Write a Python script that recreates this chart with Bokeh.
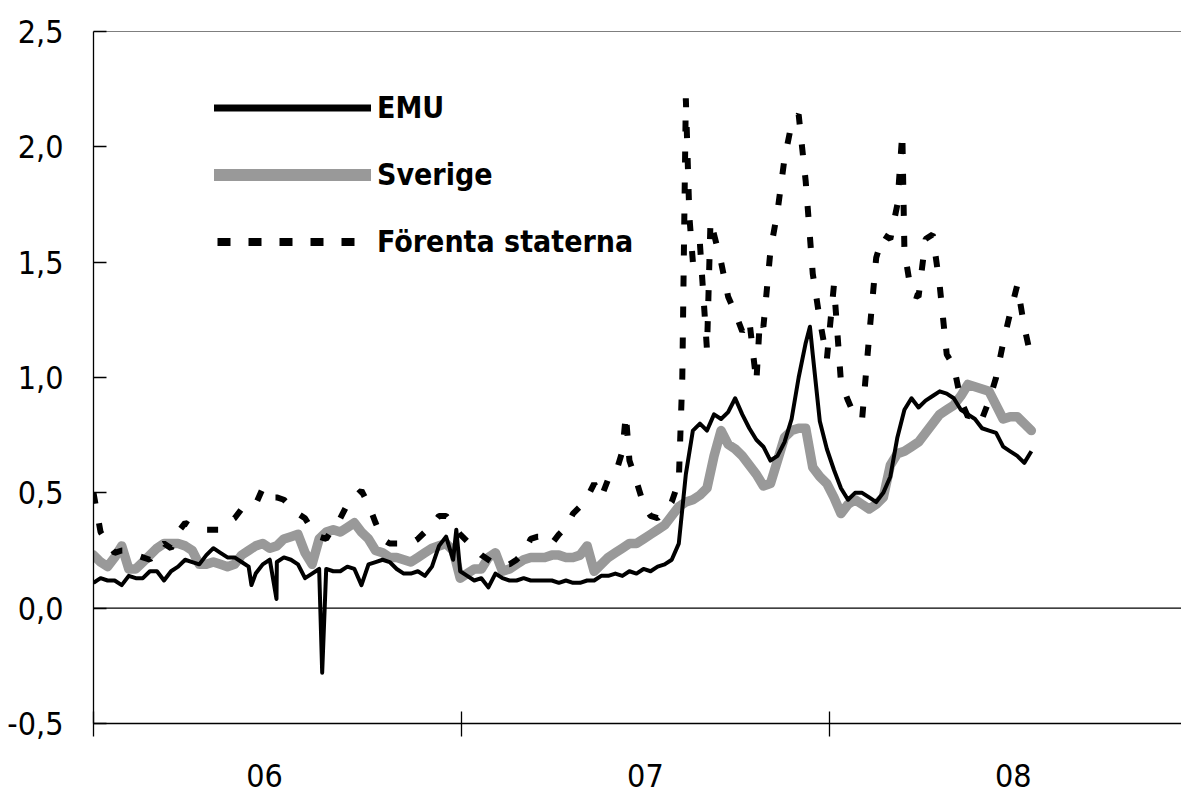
from bokeh.plotting import figure
from bokeh.models import (FixedTicker, Span, Legend, LegendItem, Range1d)
from bokeh.embed import file_html
from bokeh.resources import INLINE

# ---------------- data (weekly readings, week 0 = start of 2006) ----------------
sverige = [0.23, 0.20, 0.18, 0.22, 0.27, 0.17, 0.17, 0.20, 0.23, 0.26,
           0.28, 0.28, 0.28, 0.27, 0.25, 0.19, 0.19, 0.20, 0.19, 0.18,
           0.19, 0.23, 0.25, 0.27, 0.28, 0.26, 0.27, 0.30, 0.31, 0.32,
           0.24, 0.19, 0.30, 0.33, 0.34, 0.33, 0.35, 0.37, 0.33, 0.30,
           0.25, 0.24, 0.22, 0.22, 0.21, 0.20, 0.22, 0.24, 0.26, 0.27,
           0.28, 0.25, 0.13, 0.15, 0.17, 0.17, 0.22, 0.24, 0.16, 0.17,
           0.19, 0.21, 0.22, 0.22, 0.22, 0.23, 0.23, 0.22, 0.22, 0.23,
           0.27, 0.16, 0.19, 0.22, 0.24, 0.26, 0.28, 0.28, 0.30, 0.32,
           0.34, 0.36, 0.40, 0.44, 0.46, 0.47, 0.49, 0.52, 0.66, 0.77,
           0.71, 0.69, 0.66, 0.62, 0.58, 0.53, 0.54, 0.64, 0.74, 0.77,
           0.78, 0.78, 0.61, 0.57, 0.54, 0.48, 0.41, 0.45, 0.47, 0.45,
           0.43, 0.45, 0.48, 0.62, 0.67, 0.68, 0.70, 0.72, 0.76, 0.80,
           0.84, 0.86, 0.88, 0.92, 0.97, 0.96, 0.95, 0.94, 0.88, 0.82,
           0.83, 0.83, 0.80, 0.77]

emu = [0.11, 0.13, 0.12, 0.12, 0.10, 0.14, 0.13, 0.13, 0.16, 0.16,
       0.12, 0.16, 0.18, 0.21, 0.20, 0.19, 0.23, 0.26, 0.24, 0.22,
       0.22, 0.20, 0.18, 0.15, 0.19, 0.21, 0.20, 0.22, 0.21, 0.19,
       0.13, 0.15, 0.17, 0.17, 0.16, 0.16, 0.18, 0.17, 0.10, 0.19,
       0.20, 0.21, 0.20, 0.17, 0.15, 0.15, 0.16, 0.14, 0.18, 0.27,
       0.31, 0.21, 0.16, 0.14, 0.12, 0.13, 0.09, 0.15, 0.13, 0.12,
       0.12, 0.13, 0.12, 0.12, 0.12, 0.12, 0.11, 0.12, 0.11, 0.11,
       0.12, 0.12, 0.14, 0.14, 0.15, 0.14, 0.16, 0.15, 0.17, 0.16,
       0.18, 0.19, 0.21, 0.28, 0.58, 0.77, 0.80, 0.77, 0.84, 0.82,
       0.85, 0.91, 0.84, 0.78, 0.73, 0.70, 0.64, 0.66, 0.72, 0.82,
       1.00, 1.15, 1.10, 0.81, 0.69, 0.60, 0.52, 0.47, 0.50, 0.50,
       0.48, 0.46, 0.50, 0.57, 0.74, 0.86, 0.91, 0.87, 0.90, 0.92,
       0.94, 0.93, 0.91, 0.86, 0.84, 0.82, 0.78, 0.77, 0.76, 0.70,
       0.68, 0.66, 0.63, 0.68]
emu_spike_weeks = [22.4, 25.95, 32.43, 51.45, 101.6]
emu_spike_values = [0.10, 0.04, -0.28, 0.34, 1.22]

usa = [0.50, 0.33, 0.28, 0.24, 0.25, 0.25, 0.23, 0.22, 0.21, 0.26,
       0.28, 0.26, 0.33, 0.37, 0.35, 0.35, 0.34, 0.34, 0.34, 0.37,
       0.39, 0.43, 0.44, 0.45, 0.52, 0.48, 0.48, 0.47, 0.44, 0.41,
       0.39, 0.34, 0.31, 0.30, 0.35, 0.39, 0.45, 0.48, 0.51, 0.45,
       0.37, 0.30, 0.28, 0.28, 0.28, 0.28, 0.30, 0.33, 0.36, 0.40,
       0.40, 0.36, 0.32, 0.29, 0.26, 0.23, 0.21, 0.19, 0.19, 0.19,
       0.21, 0.24, 0.30, 0.31, 0.31, 0.28, 0.32, 0.35, 0.41, 0.44,
       0.48, 0.54, 0.48, 0.56, 0.58, 0.68, 0.64, 0.55, 0.45, 0.40,
       0.39, 0.42, 0.46, 0.55, 2.21, 1.50, 1.58, 1.12, 1.62, 1.50,
       1.35, 1.28, 1.20, 1.25, 0.98, 1.22, 1.55, 1.72, 1.95, 2.10,
       2.14, 1.85, 1.45, 1.25, 1.08, 1.40, 0.98, 0.90, 0.83, 0.82,
       1.18, 1.52, 1.62, 1.60, 1.75, 1.55, 1.36, 1.35, 1.60, 1.62,
       1.40, 1.10, 1.05, 0.90, 0.83, 0.85, 0.82, 0.90, 1.00, 1.15,
       1.28, 1.40, 1.22, 1.08]
usa_spike_weeks = [75.5, 83.5, 84.5, 86.5, 87.5, 94.5, 114.7]
usa_spike_values = [0.84, 1.00, 1.70, 1.35, 1.68, 1.25, 2.06]

series_names = ["EMU", "Sverige", "Förenta staterna"]
year_ticks = [2006, 2007, 2008]
year_label_pos = [2006.465, 2007.5, 2008.5]
year_labels = ["06", "07", "08"]
y_ticks = [-0.5, 0, 0.5, 1, 1.5, 2, 2.5]
y_labels = ["-0,5", "0,0", "0,5", "1,0", "1,5", "2,0", "2,5"]

START_YEAR = 2006


def to_xy(base, spike_weeks=(), spike_values=()):
    pts = sorted(list(zip(range(len(base)), base)) + list(zip(spike_weeks, spike_values)))
    xs = [START_YEAR + w * 7 / 365.25 for w, _ in pts]
    ys = [v for _, v in pts]
    return xs, ys


FONT = "DejaVu Sans Condensed, DejaVu Sans, sans-serif"

p = figure(width=1181, height=796,
           x_range=Range1d(2006.0, 2008.957), y_range=Range1d(-0.5, 2.5),
           output_backend="svg", toolbar_location=None,
           min_border_left=93, min_border_right=0, min_border_top=31,
           min_border_bottom=73)
p.outline_line_color = None
p.xgrid.visible = False
p.ygrid.visible = False
p.background_fill_color = "white"
p.border_fill_color = "white"

# lines
sx, sy = to_xy(sverige)
ex, ey = to_xy(emu, emu_spike_weeks, emu_spike_values)
ux, uy = to_xy(usa, usa_spike_weeks, usa_spike_values)

p.line(sx, sy, line_color="#999999", line_width=9.5, line_join="round", line_cap="round")
p.line(ex, ey, line_color="black", line_width=4, line_join="round")
p.line(ux, uy, line_color="black", line_width=6, line_dash="11 20")

# reference lines
p.add_layout(Span(location=0, dimension="width", line_color="black", line_width=1.2))
p.add_layout(Span(location=2.5, dimension="width", line_color="black", line_width=1.2))

# y axis
yax = p.yaxis[0]
yax.ticker = FixedTicker(ticks=y_ticks)
yax.major_label_overrides = {(int(v) if float(v).is_integer() else v): lab
                             for v, lab in zip(y_ticks, y_labels)}
yax.major_tick_in = 13
yax.major_tick_out = 0
yax.minor_tick_line_color = None
yax.major_label_standoff = 30
yax.axis_line_width = 1.3
yax.major_tick_line_width = 1.3
yax.major_label_text_font = FONT
yax.major_label_text_font_size = "32px"
yax.major_label_text_color = "black"

# x axis: labels inside each year (major, no tick line), tick marks at year boundaries (minor)
xax = p.xaxis[0]
xax.ticker = FixedTicker(ticks=year_label_pos, minor_ticks=year_ticks)
xax.major_label_overrides = {m: lab for m, lab in zip(year_label_pos, year_labels)}
xax.major_tick_line_color = None
xax.major_tick_in = 0
xax.major_tick_out = 0
xax.minor_tick_in = 12
xax.minor_tick_out = 13
xax.minor_tick_line_color = "black"
xax.minor_tick_line_width = 1.3
xax.axis_line_width = 1.3
xax.major_label_standoff = 27
xax.major_label_text_font = FONT
xax.major_label_text_font_size = "32px"
xax.major_label_text_color = "black"

# legend (renderers without visible data carry the legend glyph styling)
nan = float("nan")
r_emu = p.line([nan], [nan], line_color="black", line_width=7, line_cap="round")
r_sve = p.line([nan], [nan], line_color="#999999", line_width=12, line_cap="round")
r_usa = p.line([nan], [nan], line_color="black", line_width=8, line_dash="13 18",
               line_dash_offset=28)
legend = Legend(items=[LegendItem(label=series_names[0], renderers=[r_emu]),
                       LegendItem(label=series_names[1], renderers=[r_sve]),
                       LegendItem(label=series_names[2], renderers=[r_usa])],
                location=(121, 464), orientation="vertical",
                glyph_width=157, glyph_height=35, label_height=35,
                spacing=32, padding=0, margin=0, label_standoff=6,
                border_line_color=None, background_fill_alpha=0,
                label_text_font=FONT, label_text_font_style="bold",
                label_text_font_size="30px", label_text_color="black")
p.add_layout(legend)

open("out.html", "w").write(file_html(p, INLINE))
